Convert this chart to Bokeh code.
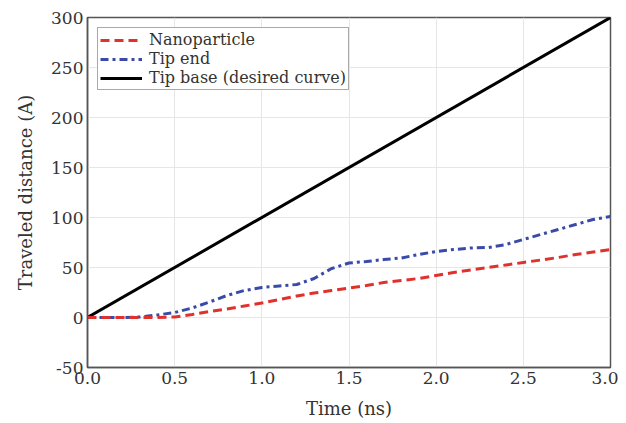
from bokeh.plotting import figure
from bokeh.models import Range1d, FixedTicker, Legend, LegendItem
from bokeh.embed import file_html
from bokeh.resources import INLINE

# ---- data ----
time_ns = [0.0, 0.1, 0.2, 0.3, 0.4, 0.5, 0.6, 0.7, 0.8, 0.9, 1.0,
           1.1, 1.2, 1.3, 1.4, 1.5, 1.6, 1.7, 1.8, 1.9, 2.0,
           2.1, 2.2, 2.3, 2.4, 2.5, 2.6, 2.7, 2.8, 2.9, 3.0]
nanoparticle = [0, 0, 0, 0, 0, 0.5, 3, 6, 8.5, 11.5, 14.5,
                18, 21.5, 24.5, 27, 29.5, 32, 35, 37, 39, 42,
                45, 47.5, 50, 52.5, 55, 57.5, 60, 63, 65.5, 68]
tip_end = [0, 0, 0, 0.5, 2.5, 5, 9.5, 15.5, 22, 27, 30,
           31.5, 33, 39, 49, 54.5, 56, 58, 59.5, 63, 66,
           68, 69.5, 70, 73, 78, 83, 88, 93, 98, 101]
base_time = [0.0, 3.0]
tip_base = [0, 300]

x_ticks = [0.0, 0.5, 1.0, 1.5, 2.0, 2.5, 3.0]
y_ticks = [-50, 0, 50, 100, 150, 200, 250, 300]

FONT = "DejaVu Serif"

p = figure(width=618, height=421, output_backend="svg", toolbar_location=None,
           x_range=Range1d(0, 3), y_range=Range1d(-50, 300),
           min_border_left=87, min_border_right=8, min_border_top=17, min_border_bottom=54)

r_base = p.line(base_time, tip_base, line_color="black", line_width=3)
r_tip = p.line(time_ns, tip_end, line_color="#3a4aa8", line_width=3, line_dash="8 4 3 4")
r_np = p.line(time_ns, nanoparticle, line_color="#e0322d", line_width=3, line_dash="9 5")

p.xaxis.ticker = FixedTicker(ticks=x_ticks)
p.yaxis.ticker = FixedTicker(ticks=y_ticks)
p.xaxis.major_label_overrides = {t: f"{t:.1f}" for t in x_ticks}
p.yaxis.major_label_overrides = {t: str(t) for t in y_ticks}
p.xaxis.axis_label = "Time (ns)"
p.yaxis.axis_label = "Traveled distance (A)"

for ax in (p.xaxis[0], p.yaxis[0]):
    ax.axis_line_color = "#555555"
    ax.axis_line_width = 1.5
    ax.major_tick_in = 0
    ax.major_tick_out = 0
    ax.minor_tick_in = 0
    ax.minor_tick_out = 0
    ax.major_label_text_font = FONT
    ax.major_label_text_font_size = "17px"
    ax.major_label_text_color = "#333333"
    ax.axis_label_text_font = FONT
    ax.axis_label_text_font_size = "18px"
    ax.axis_label_text_font_style = "normal"
    ax.axis_label_text_color = "#333333"

p.xaxis.major_label_standoff = 4
p.xaxis.axis_label_standoff = 11
p.yaxis.major_label_standoff = 4
p.yaxis.axis_label_standoff = 12

p.outline_line_color = "#555555"
p.outline_line_width = 1.5
p.grid.grid_line_color = "#e6e6e6"
p.grid.grid_line_width = 1

legend = Legend(items=[
    LegendItem(label="Nanoparticle", renderers=[r_np]),
    LegendItem(label="Tip end", renderers=[r_tip]),
    LegendItem(label="Tip base (desired curve)", renderers=[r_base]),
], location="top_left")
legend.label_text_font = FONT
legend.label_text_font_size = "16px"
legend.label_text_color = "#333333"
legend.border_line_color = "#555555"
legend.border_line_width = 1.5
legend.background_fill_alpha = 1
legend.glyph_width = 42
legend.glyph_height = 18
legend.label_height = 18
legend.spacing = 0
legend.padding = 2
legend.margin = 10
legend.label_standoff = 7
p.add_layout(legend)

open("out.html", "w").write(file_html(p, INLINE))
